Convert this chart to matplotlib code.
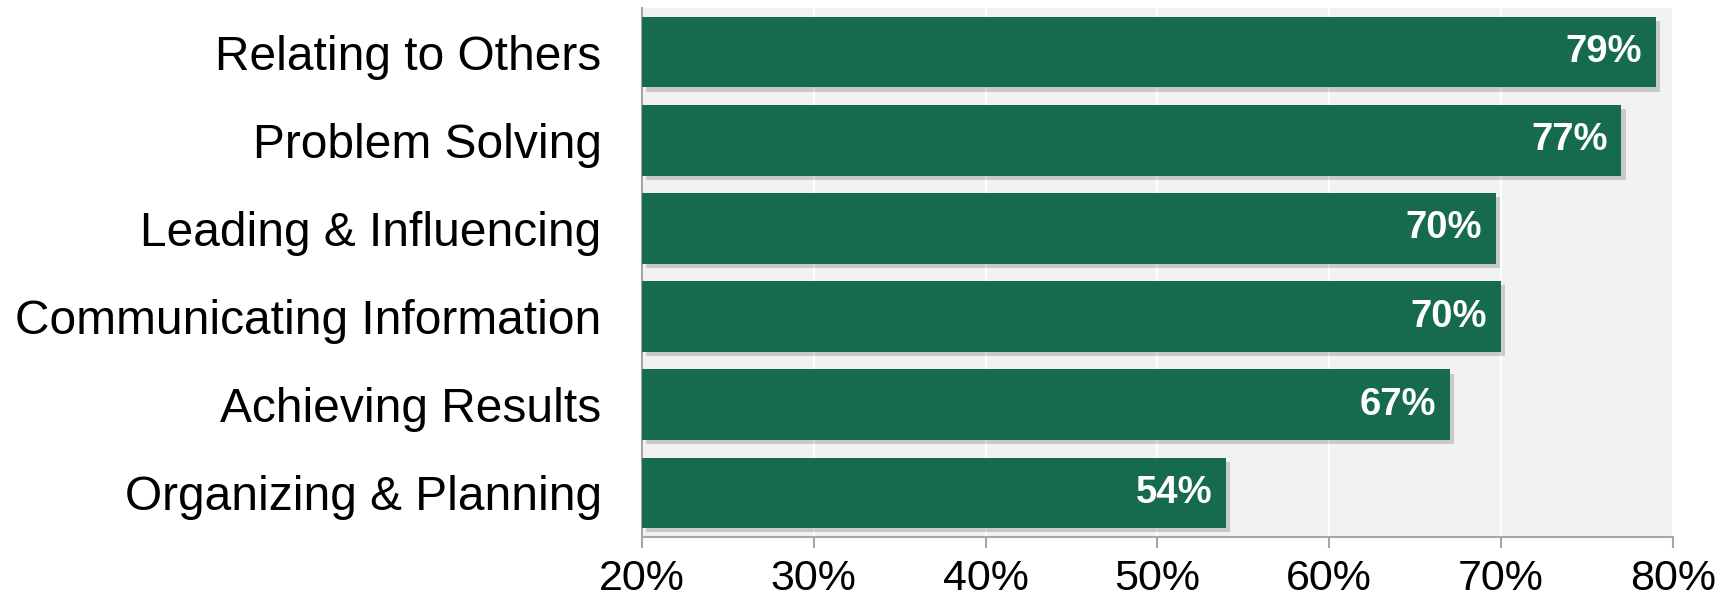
import matplotlib
matplotlib.use("Agg")
import matplotlib.pyplot as plt
import matplotlib.patheffects as pe

plt.rcParams['font.family'] = ['Liberation Sans', 'DejaVu Sans']

categories = ["Relating to Others", "Problem Solving", "Leading & Influencing",
              "Communicating Information", "Achieving Results", "Organizing & Planning"]
values = [79, 77, 69.7, 70, 67, 54]
labels = ["79%", "77%", "70%", "70%", "67%", "54%"]
ticks = [20, 30, 40, 50, 60, 70, 80]

green = "#156A50"

fig = plt.figure(figsize=(17.27, 5.97), dpi=100)
ax = fig.add_axes([0.3717, 0.1005, 0.5970, 0.8861])
ax.set_facecolor("#F2F2F2")

y = list(range(len(categories)))
bars = ax.barh(y, [v - 20 for v in values], left=20, height=0.8, color=green, zorder=3)
for b in bars:
    b.set_path_effects([pe.SimplePatchShadow(offset=(3, -3), shadow_rgbFace="#999999", alpha=0.45),
                        pe.Normal()])

for yi, v, lab in zip(y, values, labels):
    ax.text(v - 0.8, yi, lab, ha="right", va="center", color="white",
            fontsize=27.5, fontweight="bold", zorder=4)

ax.set_xlim(20, 80)
ax.set_ylim(len(categories) - 0.5, -0.5)
ax.set_xticks(ticks)
ax.set_xticklabels([f"{t}%" for t in ticks], fontsize=31)
ax.set_yticks(y)
ax.set_yticklabels(categories, fontsize=34.5)
ax.tick_params(axis="y", length=0, pad=29)
ax.tick_params(axis="x", length=8, width=1.5, color="#A6A6A6", pad=8)
ax.xaxis.grid(True, color="white", linewidth=1.5, zorder=0)
ax.set_axisbelow(True)

for s in ["top", "right"]:
    ax.spines[s].set_visible(False)
for s in ["left", "bottom"]:
    ax.spines[s].set_color("#A6A6A6")
    ax.spines[s].set_linewidth(1.5)

fig.savefig("out.png", dpi=100)
